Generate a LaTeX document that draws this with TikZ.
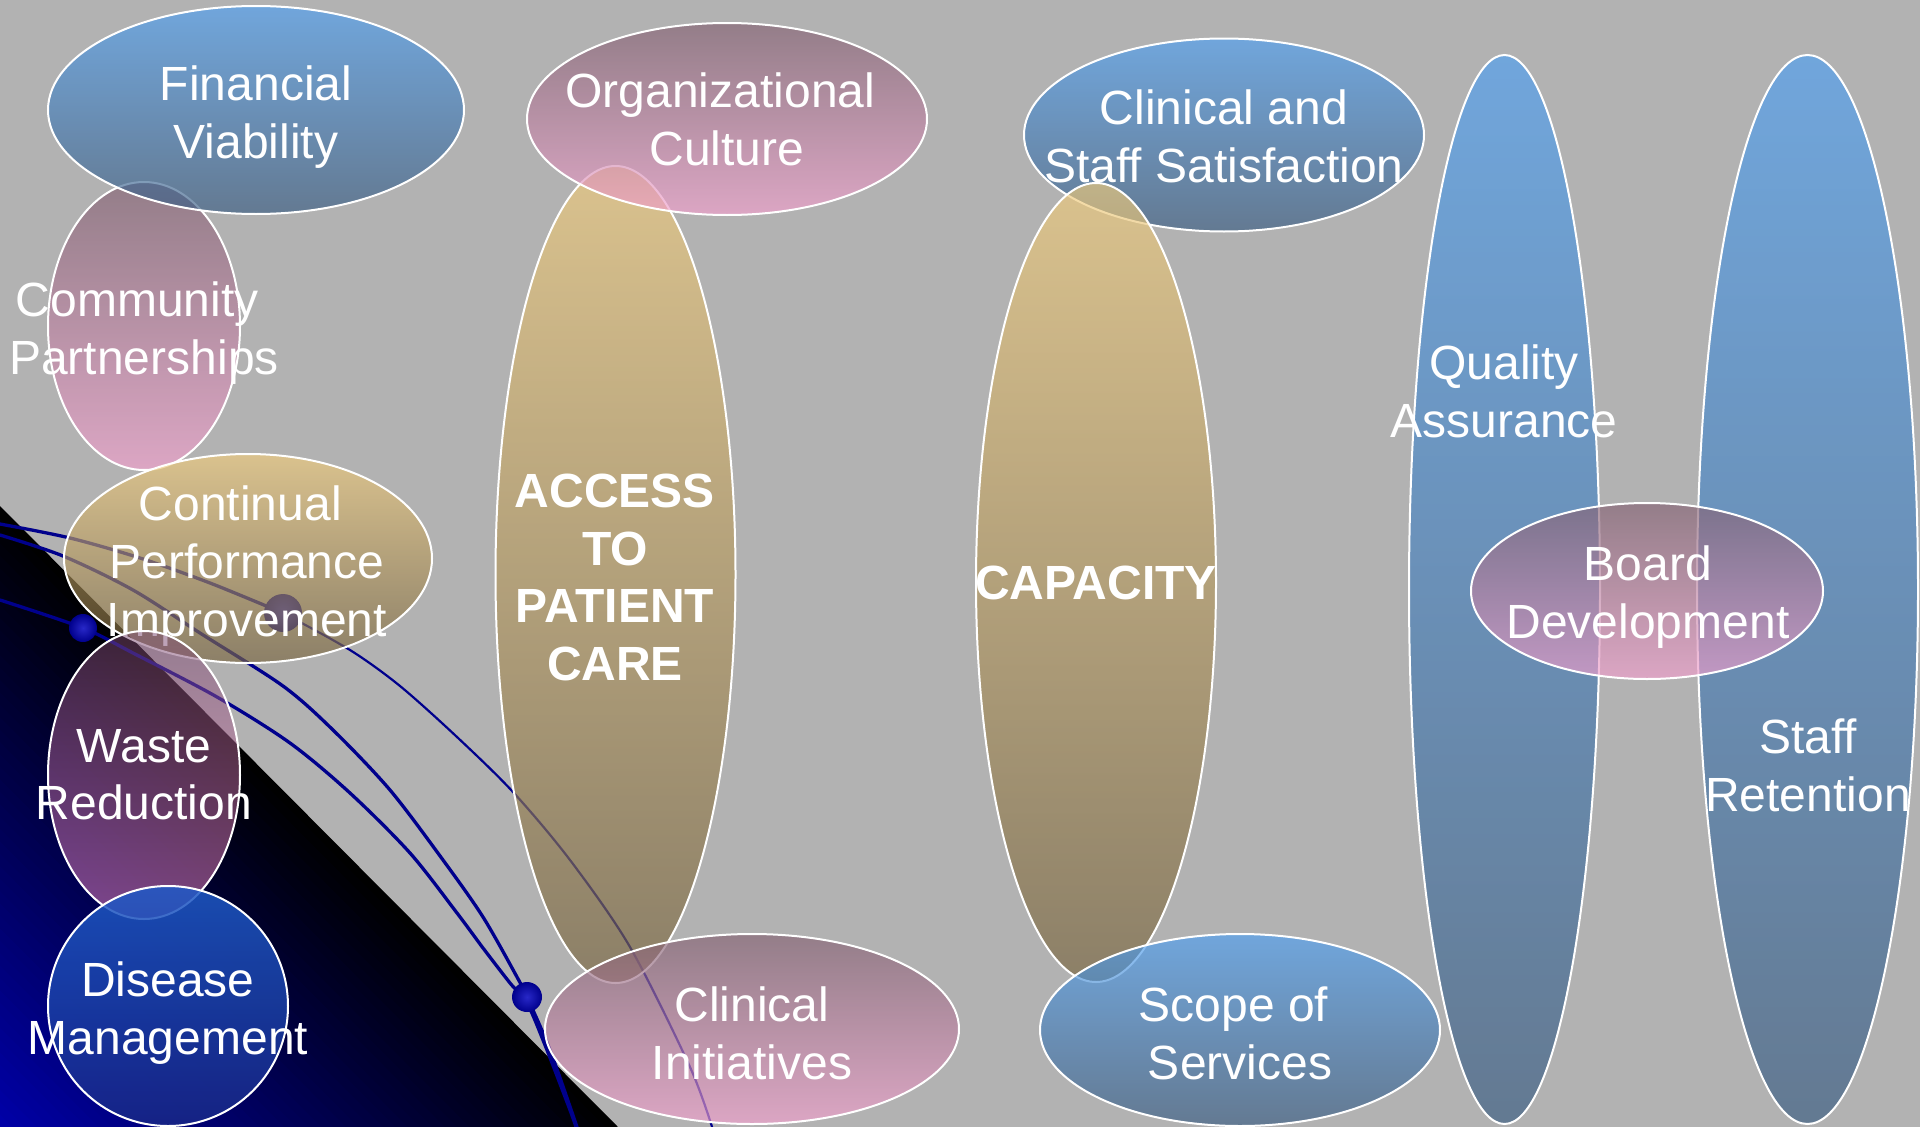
\documentclass[tikz,border=0pt]{standalone}
\usepackage{fontspec}
\setmainfont{Liberation Sans}
\definecolor{bg}{RGB}{178,178,178}
\definecolor{bluetop}{RGB}{78,160,243}
\definecolor{bluebot}{RGB}{58,92,129}
\definecolor{pinktop}{RGB}{132,98,115}
\definecolor{pinkbot}{RGB}{243,160,206}
\definecolor{tantop}{RGB}{240,203,123}
\definecolor{tanbot}{RGB}{120,101,64}
\definecolor{wastetop}{RGB}{120,70,110}
\definecolor{wastebot}{RGB}{250,140,200}
\definecolor{distop}{RGB}{30,90,200}
\definecolor{disbot}{RGB}{25,40,135}
\definecolor{navy}{RGB}{0,0,140}
\definecolor{ballin}{RGB}{40,40,200}
\definecolor{tricorner}{RGB}{0,0,170}
\newcommand{\trailsp}{\rule{13.3pt}{0pt}}
\tikzset{
  oval/.style={draw=white, line width=2pt, fill opacity=0.65},
  blueoval/.style={oval, top color=bluetop, bottom color=bluebot},
  pinkoval/.style={oval, top color=pinktop, bottom color=pinkbot},
  tanoval/.style={oval, top color=tantop, bottom color=tanbot},
  wasteoval/.style={oval, fill opacity=0.5, top color=wastetop, bottom color=wastebot},
  disoval/.style={oval, fill opacity=0.85, top color=distop, bottom color=disbot},
  lbl/.style={text=white, font={\fontsize{48}{57.6}\selectfont}, align=center, inner sep=0pt, anchor=north},
  blbl/.style={lbl, font={\bfseries\fontsize{48}{57.6}\selectfont}},
  curve/.style={draw=navy, line cap=round, line join=round},
  ballstyle/.style={inner color=ballin, outer color=navy},
}
\begin{document}
\begin{tikzpicture}[x=1pt,y=-1pt]
\useasboundingbox (0,0) rectangle (1920,1127);
\fill[bg] (0,0) rectangle (1920,1127);
% dark triangle with gradient
\foreach \i in {0,...,49} {
  \pgfmathsetmacro{\s}{1-\i/50}
  \pgfmathtruncatemacro{\p}{2*\i}
  \fill[tricorner!\p!black] (0,1127) -- (0,{1127-621*\s}) -- ({618*\s},1127) -- cycle;
}
% decorative curves
\draw[curve, line width=3.3pt] plot[smooth] coordinates {(0,524) (70,538) (140,558) (210,583) (283,613)};
\draw[curve, line width=2.2pt] plot[smooth] coordinates {(283,613) (350,650) (400,686) (457,737) (513,792) (570,860) (630,947) (690,1067) (713,1130)};
\draw[curve, line width=3.3pt] plot[smooth] coordinates {(0,535) (63,556) (133,590) (200,633) (283,686) (333,730) (390,790) (443,860) (483,917) (517,977) (527,997) (550,1050) (578,1130)};
\draw[curve, line width=3.3pt] plot[smooth] coordinates {(0,600) (83,628) (133,653) (217,697) (290,743) (350,793) (410,853) (457,913) (483,948) (510,983) (527,1003) (545,1045) (570,1110) (577,1130)};
\shade[ballstyle] (83,628) circle [radius=14pt];
\shade[ballstyle] (283,613) circle [radius=19pt];
\shade[ballstyle] (527,997) circle [radius=15pt];
% ovals, back to front
\path[pinkoval] (144,326) ellipse [x radius=96pt, y radius=144pt];
\node[lbl] (cp) at (144,282) {Community\trailsp\\Partnerships};
\path[blueoval] (256,110) ellipse [x radius=208pt, y radius=104pt];
\node[lbl] (fv) at (256,66) {Financial\\Viability};
\path[tanoval] (615.5,574.5) ellipse [x radius=120pt, y radius=408.5pt];
\node[blbl] (apc) at (615,474) {ACCESS\\TO\\PATIENT\\CARE};
\path[pinkoval] (727,119) ellipse [x radius=200pt, y radius=96pt];
\node[lbl] (oc) at (727,73) {Organizational\trailsp\\Culture};
\path[tanoval] (248,558.5) ellipse [x radius=184pt, y radius=104.5pt];
\node[lbl] (cpi) at (247,486) {Continual\trailsp\\Performance\\Improvement};
\path[wasteoval] (144,775) ellipse [x radius=96pt, y radius=144pt];
\node[lbl] (wr) at (144,729) {Waste\\Reduction};
\path[disoval] (168,1006) circle [radius=120pt];
\node[lbl] (dm) at (168,962) {Disease\\Management};
\path[pinkoval] (752,1029) ellipse [x radius=207pt, y radius=95pt];
\node[lbl] (ci) at (752,987) {Clinical\\Initiatives};
\path[blueoval] (1224,135) ellipse [x radius=200pt, y radius=96.5pt];
\node[lbl] (css) at (1224,90) {Clinical and\\Staff Satisfaction};
\path[tanoval] (1096,582.5) ellipse [x radius=120pt, y radius=399.5pt];
\node[blbl] (cap) at (1096,566) {CAPACITY};
\path[blueoval] (1240,1030) ellipse [x radius=200pt, y radius=96pt];
\node[lbl] (ss) at (1240,987) {Scope of\trailsp\\Services};
\path[blueoval] (1504.5,589.5) ellipse [x radius=95.5pt, y radius=534.5pt];
\node[lbl] (qa) at (1504,345) {Quality\\Assurance};
\path[blueoval] (1807.5,589.5) ellipse [x radius=110.5pt, y radius=534.5pt];
\node[lbl] (sr) at (1808,719) {Staff\\Retention};
\path[pinkoval] (1647,591) ellipse [x radius=176pt, y radius=88pt];
\node[lbl] (bd) at (1648,546) {Board\\Development};
\end{tikzpicture}
\end{document}
